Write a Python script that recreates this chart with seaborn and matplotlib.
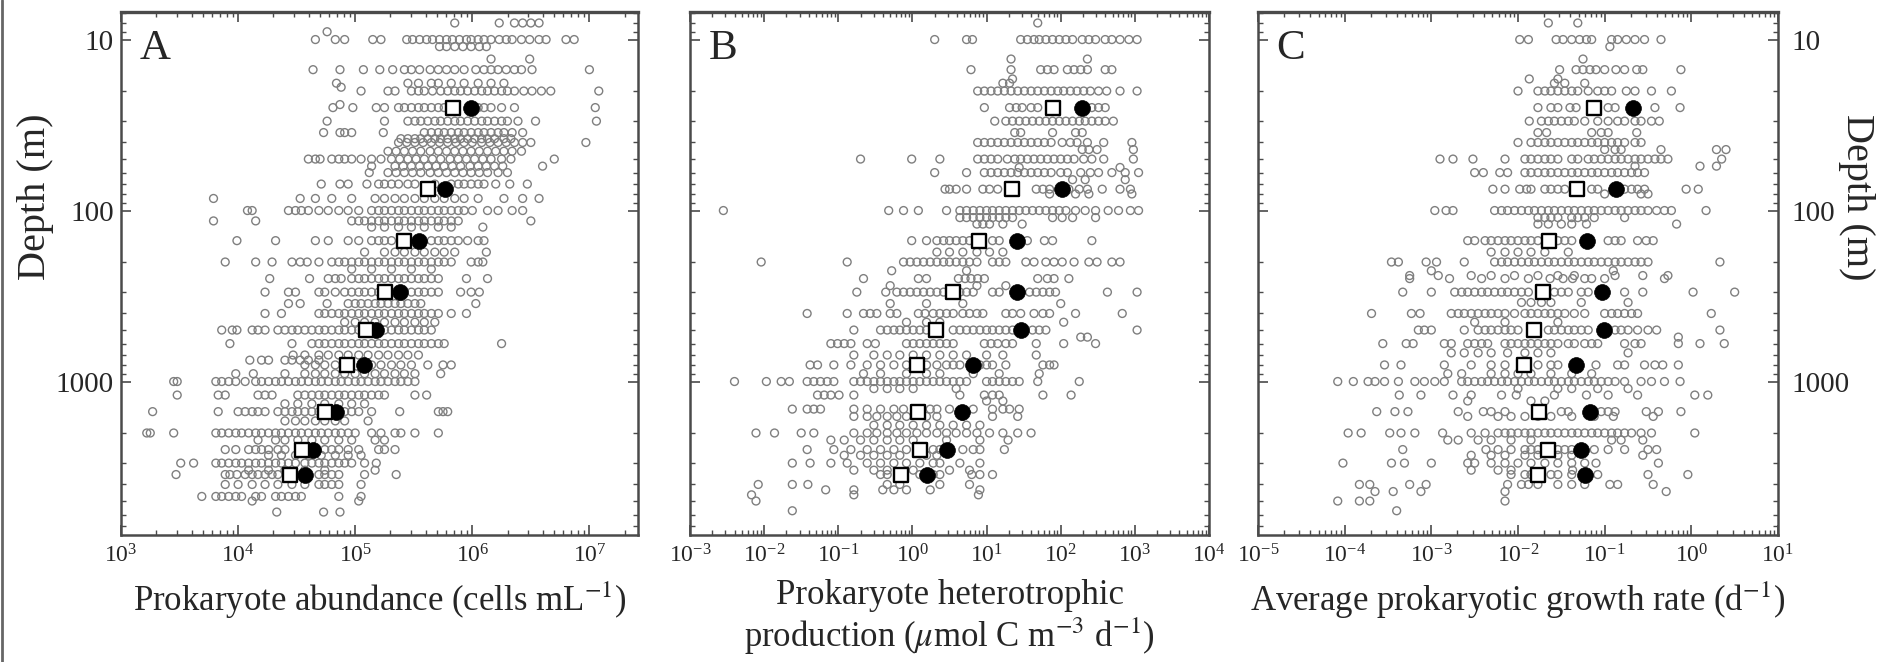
import numpy as np
import pandas as pd
import matplotlib
matplotlib.use("Agg")
import matplotlib.pyplot as plt
import seaborn as sns
from matplotlib.ticker import LogLocator, LogFormatterMathtext, NullFormatter
from matplotlib.lines import Line2D

# ---------------- data (grey points: depth in m, log10 of the x value) ----------------
abundance_rows = [
    (8, [5.85, 6.23, 6.36, 6.43, 6.50, 6.57]),
    (9, [4.76]),
    (10, [4.66, 4.83, 4.91, 5.15, 5.22, 5.44, 5.49, 5.55, 5.61, 5.66, 5.72, 5.78, 5.83, 5.89, 5.95, 5.99, 6.05, 6.10,
          6.16, 6.23, 6.29, 6.34, 6.42, 6.49, 6.57, 6.63, 6.80, 6.87]),
    (11, [5.72, 5.78, 5.85, 5.92, 5.99, 6.06, 6.12]),
    (13, [6.16, 6.49]),
    (15, [4.64, 4.87, 5.07, 5.21, 5.32, 5.42, 5.48, 5.55, 5.64, 5.71, 5.78, 5.85, 5.93, 6.03, 6.10, 6.16, 6.22, 6.29,
          6.36, 6.42, 6.51, 7.00]),
    (18, [4.84, 5.45, 5.54, 5.65, 5.71, 5.82, 5.93, 6.05, 6.16, 6.27]),
    (19, [4.88]),
    (20, [5.05, 5.28, 5.34, 5.48, 5.54, 5.59, 5.66, 5.73, 5.79, 5.85, 5.90, 5.96, 6.02, 6.08, 6.13, 6.19, 6.25, 6.30,
          6.36, 6.44, 6.51, 6.59, 6.67, 7.08]),
    (24, [4.87]),
    (25, [4.81, 4.98, 5.18, 5.25, 5.37, 5.42, 5.48, 5.54, 5.59, 5.65, 5.71, 5.76, 6.05, 6.10, 6.16, 6.25, 6.36, 7.05]),
    (30, [4.76, 5.25, 5.45, 5.51, 5.56, 5.62, 5.68, 5.73, 5.79, 5.85, 5.90, 5.96, 6.02, 6.08, 6.13, 6.19, 6.25, 6.30,
          6.39, 6.54, 7.06]),
    (35, [4.73, 4.87, 4.91, 4.97, 5.24, 5.59, 5.65, 5.71, 5.76, 5.82, 5.88, 5.93, 5.99, 6.05, 6.10, 6.16, 6.22, 6.27,
          6.34, 6.43]),
    (38, [5.39, 5.45, 5.51, 5.56, 5.62, 5.68, 5.73, 5.79, 5.85, 5.90, 5.96, 6.02, 6.08, 6.13, 6.19, 6.27, 6.33]),
    (40, [5.37, 5.44, 5.51, 5.58, 5.65, 5.72, 5.79, 5.86, 5.93, 6.00, 6.08, 6.15, 6.22, 6.29, 6.36, 6.43, 6.50, 6.97]),
    (45, [5.28, 5.35, 5.42, 5.49, 5.56, 5.64, 5.71, 5.78, 5.85, 5.92, 5.99, 6.06, 6.13, 6.20, 6.27, 6.34, 6.42]),
    (50, [4.60, 4.66, 4.70, 4.80, 4.86, 4.91, 4.97, 5.05, 5.14, 5.22, 5.31, 5.38, 5.45, 5.52, 5.59, 5.66, 5.73, 5.81,
          5.88, 5.95, 6.02, 6.09, 6.16, 6.25, 6.33, 6.70]),
    (55, [5.14, 5.34, 5.41, 5.48, 5.55, 5.62, 5.69, 5.76, 5.83, 5.90, 5.98, 6.05, 6.12, 6.19, 6.26, 6.60]),
    (60, [5.12, 5.28, 5.35, 5.42, 5.49, 5.56, 5.64, 5.71, 5.78, 5.85, 5.92, 5.99, 6.06, 6.13, 6.22, 6.30]),
    (70, [4.71, 4.87, 4.94, 5.10, 5.20, 5.25, 5.31, 5.37, 5.45, 5.51, 5.68, 5.82, 5.88, 5.93, 5.99, 6.05, 6.10, 6.20,
          6.32, 6.47]),
    (85, [3.79, 4.53, 4.66, 4.80, 4.97, 5.17, 5.25, 5.34, 5.42, 5.51, 5.59, 5.68, 5.76, 5.85, 5.93, 6.05, 6.27, 6.43,
          6.57]),
    (100, [4.08, 4.12, 4.43, 4.49, 4.54, 4.60, 4.69, 4.77, 4.86, 4.94, 5.03, 5.14, 5.20, 5.25, 5.31, 5.37, 5.42, 5.48,
           5.54, 5.59, 5.65, 5.71, 5.76, 5.82, 5.88, 5.93, 6.00, 6.13, 6.22, 6.34, 6.43]),
    (115, [3.79, 4.15, 4.97, 5.03, 5.08, 5.14, 5.20, 5.25, 5.31, 5.37, 5.42, 5.48, 5.54, 5.59, 5.65, 5.71, 5.76, 5.82,
           5.88, 6.50]),
    (125, [5.14, 5.25, 5.37, 5.48, 5.59, 5.71, 5.82, 6.09]),
    (150, [3.99, 4.32, 4.66, 4.77, 4.94, 5.03, 5.14, 5.20, 5.25, 5.31, 5.65, 5.71, 5.76, 5.82, 5.88, 5.96, 6.05, 6.10]),
    (175, [5.08, 5.25, 5.34, 5.42, 5.51, 5.59, 5.68, 5.76, 5.85, 6.12]),
    (200, [3.89, 4.15, 4.29, 4.46, 4.53, 4.59, 4.69, 4.80, 4.86, 4.91, 4.97, 5.03, 5.08, 5.14, 5.20, 5.25, 5.31, 5.37,
           5.42, 5.48, 5.54, 5.59, 5.65, 5.71, 5.76, 5.82, 5.99, 6.05, 6.09]),
    (220, [4.97, 5.14, 5.31, 5.48, 5.65]),
    (250, [4.27, 4.61, 4.77, 4.83, 4.88, 4.97, 5.03, 5.08, 5.14, 5.20, 5.25, 5.31, 5.37, 5.42, 5.48, 5.54, 5.59, 5.65,
           5.71, 5.95, 6.13]),
    (300, [4.23, 4.43, 4.49, 4.69, 4.74, 4.83, 4.91, 4.97, 5.03, 5.08, 5.14, 5.20, 5.48, 5.54, 5.59, 5.65, 5.71, 5.90,
           5.99, 6.06]),
    (350, [4.43, 4.53, 4.76, 4.94, 5.00, 5.05, 5.11, 5.17, 5.22, 5.28, 5.34, 5.39, 5.45, 5.51, 5.56, 6.03]),
    (400, [4.23, 4.37, 4.69, 4.74, 4.80, 4.86, 4.91, 4.97, 5.03, 5.08, 5.14, 5.20, 5.25, 5.31, 5.37, 5.42, 5.48, 5.54,
           5.59, 5.65, 5.71, 5.82, 5.95]),
    (450, [4.91, 5.00, 5.08, 5.17, 5.25, 5.34, 5.42, 5.51, 5.59, 5.68]),
    (500, [3.86, 3.95, 3.99, 4.12, 4.17, 4.23, 4.34, 4.40, 4.46, 4.51, 4.57, 4.63, 4.69, 4.74, 4.80, 4.86, 4.91, 4.97,
           5.03, 5.25, 5.31, 5.37, 5.42, 5.48, 5.54, 5.59, 5.65]),
    (600, [3.93, 4.46, 4.63, 4.69, 4.74, 4.80, 4.86, 4.91, 4.97, 5.03, 5.08, 5.14, 5.20, 5.25, 5.31, 5.37, 5.42, 5.48,
           5.54, 5.59, 5.65, 5.71, 5.76, 6.25]),
    (700, [4.47, 4.57, 4.69, 4.77, 4.86, 4.94, 5.03, 5.11, 5.20, 5.28, 5.37, 5.45, 5.54]),
    (750, [4.10, 4.20, 4.26, 4.40, 4.46, 4.53, 4.60, 4.69]),
    (800, [4.57, 4.66, 4.74, 4.83, 5.14, 5.22, 5.31, 5.39, 5.48, 5.62, 5.75, 5.82]),
    (900, [3.98, 4.13, 4.40, 4.57, 4.66, 4.74, 4.83, 4.91, 5.00, 5.08, 5.17, 5.25, 5.34, 5.42, 5.51, 5.73]),
    (1000, [3.45, 3.48, 3.81, 3.86, 3.92, 3.98, 4.06, 4.15, 4.20, 4.26, 4.32, 4.37, 4.43, 4.49, 4.54, 4.60, 4.66, 4.71,
            4.77, 4.83, 4.88, 4.94, 5.00, 5.05, 5.11, 5.17, 5.22, 5.28, 5.34, 5.39, 5.45, 5.51]),
    (1200, [3.48, 3.83, 3.89, 4.17, 4.23, 4.29, 4.51, 4.57, 4.63, 4.69, 4.74, 4.80, 4.86, 4.91, 4.97, 5.03, 5.08, 5.14,
            5.20, 5.25, 5.51, 5.61]),
    (1350, [4.40, 4.51, 4.63, 4.74, 4.86, 4.97, 5.08]),
    (1500, [3.27, 3.83, 4.00, 4.06, 4.12, 4.17, 4.23, 4.34, 4.40, 4.46, 4.51, 4.57, 4.63, 4.69, 4.91, 4.97, 5.03, 5.14,
            5.38, 5.71, 5.75, 5.79]),
    (1700, [4.40, 4.49, 4.57, 4.66, 4.74, 4.83, 4.91, 5.11]),
    (2000, [3.22, 3.25, 3.45, 3.81, 3.86, 3.92, 3.98, 4.03, 4.09, 4.15, 4.20, 4.26, 4.32, 4.37, 4.43, 4.49, 4.54, 4.60,
            4.66, 4.71, 4.77, 4.83, 4.88, 4.94, 5.00, 5.14, 5.22, 5.34, 5.39, 5.51, 5.71]),
    (2200, [4.17, 4.32, 4.40, 4.51, 4.63, 4.74, 4.86, 4.97, 5.17, 5.25]),
    (2500, [3.89, 3.98, 4.09, 4.15, 4.20, 4.26, 4.34, 4.40, 4.74, 4.80, 4.86, 4.94, 5.03, 5.20, 5.25, 5.34]),
    (2700, [4.26, 4.37, 4.49, 4.60, 4.71, 4.83, 4.94, 5.05]),
    (3000, [3.51, 3.62, 3.81, 3.86, 3.92, 3.98, 4.03, 4.09, 4.15, 4.20, 4.26, 4.32, 4.37, 4.43, 4.49, 4.57, 4.63, 4.69,
            4.74, 4.80, 4.86, 4.91, 4.97, 5.08, 5.18]),
    (3300, [4.09, 4.26, 4.40, 4.57, 4.74, 5.17]),
    (3500, [3.47, 3.89, 3.93, 3.99, 4.06, 4.12, 4.17, 4.23, 4.29, 4.34, 4.69, 4.74, 4.80, 4.86, 5.08, 5.35]),
    (4000, [3.89, 4.00, 4.12, 4.23, 4.34, 4.46, 4.57, 4.69, 4.74, 4.80, 4.86, 5.05]),
    (4700, [3.69, 3.81, 3.86, 3.92, 3.98, 4.03, 4.15, 4.20, 4.32, 4.37, 4.43, 4.49, 4.54, 4.86, 5.05]),
    (5000, [4.12, 5.03]),
    (5800, [4.33, 4.73, 4.87]),
]

production_rows = [
    (8, [1.69]),
    (10, [0.30, 0.73, 0.81, 1.46, 1.55, 1.64, 1.71, 1.80, 1.89, 1.98, 2.07, 2.16, 2.29, 2.38, 2.47, 2.60, 2.69, 2.80,
          2.92, 3.03]),
    (13, [1.33, 2.36]),
    (15, [0.79, 1.33, 1.73, 1.82, 1.91, 2.09, 2.18, 2.27, 2.36, 2.60, 2.69]),
    (17, [1.35]),
    (18, [1.22, 1.31]),
    (20, [0.88, 0.97, 1.06, 1.15, 1.24, 1.33, 1.42, 1.51, 1.60, 1.69, 1.78, 1.87, 1.96, 2.04, 2.13, 2.22, 2.31, 2.40,
          2.51, 2.62, 2.80, 3.03]),
    (25, [0.97, 1.31, 1.40, 1.48, 1.60, 1.69, 2.42, 2.51, 2.60]),
    (30, [1.11, 1.26, 1.35, 1.44, 1.53, 1.62, 1.71, 1.80, 1.89, 1.98, 2.07, 2.16, 2.25, 2.33, 2.42, 2.51, 2.60, 2.71]),
    (35, [1.38, 1.46, 1.89, 2.20, 2.29]),
    (40, [0.88, 0.97, 1.06, 1.15, 1.24, 1.33, 1.42, 1.51, 1.60, 1.69, 1.78, 1.87, 2.02, 2.13, 2.22, 2.36, 2.58, 2.96]),
    (44, [2.29, 2.38, 2.49, 2.98]),
    (50, [-0.70, -0.01, 0.37, 0.88, 0.97, 1.06, 1.15, 1.28, 1.38, 1.46, 1.55, 1.64, 1.73, 1.82, 1.91, 2.00, 2.09, 2.18,
          2.31, 2.42, 2.58, 2.98]),
    (56, [1.44, 2.80]),
    (60, [0.30, 0.73, 0.97, 1.06, 1.15, 1.24, 1.33, 1.42, 1.51, 1.60, 1.69, 1.78, 1.87, 2.00, 2.09, 2.27, 2.40, 2.51,
          2.69, 2.87, 3.05]),
    (66, [2.16, 2.33, 2.87]),
    (75, [0.44, 0.50, 0.59, 0.73, 0.95, 1.04, 1.15, 1.67, 1.76, 1.85, 2.11, 2.25, 2.36, 2.56, 2.80, 2.94]),
    (80, [1.85, 2.20, 2.38, 2.96]),
    (100, [-2.55, -0.32, -0.12, 0.08, 0.46, 0.64, 0.73, 0.82, 0.91, 1.00, 1.08, 1.17, 1.26, 1.35, 1.44, 1.53, 1.62,
           1.71, 1.80, 1.89, 1.98, 2.07, 2.20, 2.33, 2.47, 2.64, 2.78, 2.94, 3.05]),
    (110, [0.64, 0.73, 0.82, 0.91, 1.00, 1.08, 1.17, 1.26, 1.35, 1.89, 2.02, 2.16, 2.47]),
    (120, [0.87, 0.95, 1.04, 1.22, 1.48]),
    (150, [-0.01, 0.19, 0.33, 0.42, 0.50, 0.59, 0.68, 0.77, 1.08, 1.17, 1.55, 1.78, 1.89, 2.42]),
    (175, [0.33, 0.50, 0.68, 0.87, 1.04, 1.22]),
    (200, [-2.04, -0.88, -0.12, -0.03, 0.06, 0.15, 0.24, 0.33, 0.42, 0.50, 0.59, 0.68, 0.77, 0.87, 1.08, 1.17, 1.26,
           1.53, 1.64, 1.80, 1.91, 2.02, 2.18, 2.38, 2.49, 2.69, 2.80]),
    (225, [-0.28, 0.73]),
    (250, [-0.66, 0.08, 0.19, 0.62, 0.71, 0.79, 0.88, 0.97, 1.69, 1.82, 1.91, 2.11]),
    (275, [-0.30, 0.87, 1.26]),
    (300, [-0.75, -0.36, -0.21, -0.12, -0.03, 0.06, 0.15, 0.24, 0.33, 0.42, 0.64, 0.73, 0.82, 1.08, 1.17, 1.58, 1.67,
           1.76, 1.85, 1.93, 2.63, 3.03]),
    (350, [-0.30, 0.19, 0.68, 2.00]),
    (400, [-1.42, -0.88, -0.66, -0.57, -0.48, -0.30, -0.21, 0.08, 0.17, 0.28, 0.37, 0.46, 0.55, 0.68, 0.77, 0.87, 0.95,
           1.26, 1.35, 1.46, 1.64, 1.76, 1.85, 2.20, 2.83]),
    (450, [-0.08, 0.19, 0.37, 2.04]),
    (500, [-0.79, -0.43, -0.34, -0.25, -0.17, -0.08, 0.01, 0.10, 0.19, 0.55, 0.64, 0.73, 0.82, 0.91, 1.00, 1.08, 1.17,
           1.26, 1.35, 1.62, 1.71, 1.80, 3.03]),
    (550, [2.27, 2.36]),
    (600, [-1.10, -1.01, -0.92, -0.83, -0.61, -0.50, -0.08, 0.01, 0.10, 0.19, 0.28, 0.37, 0.46, 0.55, 0.97, 1.06, 1.15,
           1.26, 1.35, 1.67, 2.04, 2.47]),
    (700, [-0.79, -0.52, -0.34, -0.17, 0.01, 0.19, 0.37, 0.55, 0.73, 1.00, 1.22, 1.67]),
    (800, [-1.38, -1.28, -1.06, -0.83, -0.61, -0.43, -0.25, -0.08, 0.19, 0.33, 0.46, 0.55, 0.64, 0.91, 1.00, 1.08,
           1.26, 1.76, 1.85, 1.91]),
    (900, [-0.66, -0.43, -0.08, 0.19, 0.37, 0.82, 1.17, 1.71]),
    (1000, [-2.40, -1.97, -1.77, -1.66, -1.42, -1.33, -1.24, -1.15, -1.06, -0.79, -0.70, -0.61, -0.52, -0.43, -0.34,
            -0.25, -0.17, -0.08, 0.01, 0.10, 0.19, 0.28, 0.37, 0.46, 0.55, 0.64, 0.73, 1.00, 1.08, 1.17, 1.26, 1.35,
            1.44, 1.69, 2.25]),
    (1100, [-0.52, -0.34, -0.17, 0.01, 0.59]),
    (1200, [-1.28, -1.19, -1.10, -0.99, -0.79, 0.64, 0.97, 1.08, 1.17, 1.76, 2.14]),
    (1300, [1.00, 1.22]),
    (1450, [-1.62, -1.42, -1.33, -1.24, -0.79, -0.61, -0.43, -0.25, -0.12, 0.24, 0.33, 0.50, 0.82, 1.08, 1.22, 1.31,
            1.44]),
    (1600, [-0.79, -0.61, -0.48, -0.34, -0.21, -0.08, 0.19, 0.33, 0.68, 1.08, 1.42]),
    (1800, [-0.52, -0.34, -0.17, 0.01, 0.19, 0.37, 0.55, 0.73, 0.91]),
    (2000, [-2.11, -1.86, -1.50, -1.33, -0.79, -0.61, -0.48, -0.34, -0.21, -0.08, 0.06, 0.19, 0.33, 0.46, 0.59, 0.73,
            0.87, 1.04, 1.22, 1.42, 1.60]),
    (2200, [-1.10, -0.92, -0.70, -0.52, -0.34, -0.17, 0.01, 0.46, 0.91, 1.29]),
    (2500, [-1.42, -1.06, -0.83, -0.61, -0.43, -0.25, -0.08, 0.28, 0.37, 0.68, 0.82, 0.91, 1.24]),
    (2700, [-0.92, -0.70, -0.52, -0.34, -0.17, 0.19, 0.33]),
    (3000, [-1.62, -1.38, -1.10, -0.88, -0.61, -0.43, -0.25, -0.08, 0.10, 0.28, 0.37, 0.64, 0.91]),
    (3300, [-0.79, -0.52, -0.34, 0.01, 0.50, 0.77]),
    (3500, [-0.43, -0.34, 0.10, 0.28, 0.37, 0.80, 0.91, 1.08]),
    (4000, [-2.08, -1.62, -1.41, -0.34, -0.17, 0.37, 0.77]),
    (4300, [-1.17, -0.79, -0.40, -0.25, -0.08, 0.24, 0.91]),
    (4600, [-2.17, -0.79, 0.89]),
    (5000, [-2.11]),
    (5700, [-1.62]),
]

growth_rows = [
    (8, [-1.65, -1.31]),
    (10, [-1.98, -1.88, -1.56, -1.48, -1.38, -1.29, -1.21, -1.15, -0.92, -0.85, -0.75, -0.65, -0.54, -0.35]),
    (11, [-0.94]),
    (13, [-1.25]),
    (15, [-1.52, -1.33, -1.25, -1.17, -1.10, -1.00, -0.87, -0.77, -0.63, -0.56, -0.12]),
    (17, [-1.87, -1.54]),
    (18, [-1.58, -1.46, -1.23]),
    (20, [-2.00, -1.77, -1.69, -1.62, -1.54, -1.46, -1.38, -1.31, -1.19, -1.08, -1.00, -0.92, -0.75, -0.65, -0.46,
          -0.23]),
    (25, [-1.77, -1.62, -1.54, -1.40, -1.33, -0.96, -0.88, -0.42, -0.13]),
    (30, [-1.87, -1.73, -1.65, -1.58, -1.50, -1.42, -1.35, -1.23, -1.08, -0.96, -0.85, -0.77, -0.65, -0.58, -0.46,
          -0.37]),
    (35, [-1.77, -1.67, -1.15, -1.04, -0.96, -0.63]),
    (40, [-2.00, -1.85, -1.77, -1.69, -1.62, -1.54, -1.46, -1.38, -1.31, -1.23, -1.15, -1.08, -1.00, -0.92, -0.85,
          -0.77, -0.65, -0.58]),
    (44, [-1.00, -0.88, -0.81, -0.35, 0.29, 0.40]),
    (50, [-2.90, -2.75, -2.52, -2.15, -1.92, -1.85, -1.77, -1.69, -1.62, -1.54, -1.38, -1.31, -1.19, -1.12, -1.04,
          -0.96, -0.88, -0.81, -0.73, -0.65, -0.58, -0.50, -0.42, -0.35, -0.27, 0.35]),
    (55, [-0.65, 0.10, 0.29]),
    (60, [-2.50, -2.40, -2.21, -2.12, -1.92, -1.85, -1.77, -1.69, -1.62, -1.54, -1.46, -1.38, -1.31, -1.23, -1.15,
          -1.08, -1.00, -0.92, -0.85, -0.77, -0.69, -0.62, -0.54]),
    (75, [-2.29, -2.15, -1.98, -1.90, -1.85, -1.69, -1.62, -1.54, -1.46, -1.15, -1.08, -0.77, -0.69, -0.62, -0.54,
          -0.06, 0.08]),
    (80, [-1.00, -0.58, -0.50]),
    (100, [-2.96, -2.83, -2.75, -2.27, -2.19, -2.12, -2.04, -1.96, -1.88, -1.81, -1.73, -1.65, -1.58, -1.50, -1.42,
           -1.35, -1.27, -1.19, -1.12, -1.04, -0.96, -0.88, -0.81, -0.73, -0.65, -0.58, -0.50, -0.40, -0.31, -0.23,
           0.17]),
    (110, [-1.77, -1.69, -1.62, -1.54, -1.38, -1.31, -1.23, -1.12, -0.77]),
    (120, [-1.77, -1.65, -1.50, -1.38, -1.21, -0.17]),
    (150, [-2.58, -2.50, -2.38, -2.31, -2.23, -2.15, -2.08, -2.00, -1.92, -1.85, -1.77, -1.54, -1.46, -1.38, -0.96,
           -0.88, -0.81, -0.62, -0.52, -0.44]),
    (175, [-2.31, -2.15, -2.00, -1.85, -1.69, -1.42]),
    (200, [-3.46, -3.38, -3.06, -2.94, -2.62, -2.27, -2.19, -2.12, -2.04, -1.96, -1.88, -1.81, -1.73, -1.65, -1.58,
           -1.50, -1.42, -1.35, -1.27, -1.19, -1.12, -1.04, -0.96, -0.88, -0.81, -0.73, -0.65, -0.58, -0.50, 0.33]),
    (225, [-3.00, -0.90]),
    (240, [-3.25, -2.92, -2.54, -2.31, -2.04, -1.77, -1.54, -1.35, -0.88, -0.56, -0.27]),
    (250, [-3.25, -2.79, -2.42, -2.15, -1.88, -1.63, -1.48, -1.37, -1.23, -1.15, -1.00, -0.31]),
    (300, [-3.33, -3.00, -2.73, -2.65, -2.58, -2.50, -2.42, -2.35, -2.27, -2.19, -2.12, -2.04, -1.96, -1.88, -1.58,
           -1.50, -1.42, -1.27, -1.19, -0.77, -0.56, 0.02, 0.50]),
    (345, [-1.96, -1.85, -1.73, -1.62, -1.27, -0.73]),
    (400, [-3.69, -3.23, -3.13, -2.77, -2.69, -2.62, -2.54, -2.46, -2.38, -2.31, -2.23, -2.15, -2.04, -1.92, -1.85,
           -1.77, -1.69, -1.62, -1.54, -1.46, -1.35, -1.23, -1.00, -0.92, -0.85, -0.77, -0.69, -0.62, 0.23]),
    (450, [-2.50, -2.15, -1.54]),
    (500, [-3.15, -3.08, -3.00, -2.62, -2.46, -2.38, -2.31, -2.23, -2.15, -2.08, -2.00, -1.65, -1.58, -1.50, -1.42,
           -1.35, -1.27, -1.19, -0.88, -0.81, -0.73, -0.62, -0.50, -0.40, 0.33]),
    (550, [-0.15]),
    (600, [-3.56, -3.29, -3.21, -2.85, -2.77, -2.58, -2.50, -2.42, -2.35, -2.15, -2.08, -2.00, -1.92, -1.85, -1.77,
           -1.69, -1.62, -1.54, -1.42, -1.35, -1.23, -1.15, -1.08, -0.77, -0.65, -0.58, -0.15, 0.10, 0.38]),
    (680, [-2.77, -2.62, -2.46, -2.31, -2.12, -1.92, -1.77, -1.62, -0.73]),
    (800, [-3.54, -3.35, -2.85, -2.54, -2.31, -2.15, -1.77, -1.62, -1.54, -1.10, -0.85, -0.77, -0.54, -0.42, -0.33,
           -0.15]),
    (900, [-2.81, -2.65, -2.31, -2.15, -2.00, -1.85, -1.62, -1.38, -1.15]),
    (1000, [-4.08, -3.90, -3.73, -3.65, -3.54, -3.38, -3.19, -3.08, -2.96, -2.85, -2.65, -2.58, -2.50, -2.42, -2.35,
            -2.27, -2.19, -2.12, -2.04, -1.96, -1.88, -1.81, -1.73, -1.65, -1.58, -1.50, -1.42, -1.35, -1.27, -1.19,
            -1.12, -1.04, -0.96, -0.88, -0.77, -0.58, -0.46, -0.31, -0.13]),
    (1100, [-2.00, -1.54, -1.38, -1.08, -0.73]),
    (1200, [-3.37, -3.12, -2.75, -2.54, -2.19, -2.02, -1.58, -1.21, -0.96, -0.62, 0.04, 0.19]),
    (1300, [-2.58, -1.85, -1.69]),
    (1500, [-3.63, -3.42, -3.27, -2.69, -2.40, -2.31, -2.15, -1.50, -1.42, -1.04, -0.96, -0.88, -0.52, -0.38, -0.12]),
    (1600, [-2.58, -2.23, -2.08, -1.92, -1.77, -1.62, -1.38, -1.12, -0.90, -0.44]),
    (2000, [-3.96, -3.81, -3.48, -3.35, -3.19, -2.87, -2.54, -2.38, -2.23, -2.15, -2.08, -2.00, -1.92, -1.85, -1.77,
            -1.69, -1.62, -1.54, -1.46, -1.38, -1.31, -1.23, -1.15, -1.08, -1.00, -0.92, -0.85, -0.77, -0.69, -0.58,
            -0.46, 0.04]),
    (2200, [-2.81, -2.69, -2.46, -2.31, -2.08, -1.85, -0.92, -0.81, -0.56]),
    (2500, [-3.33, -2.37, -2.23, -2.08, -1.92, -1.85, -1.77, -1.54, -1.46, -1.38, -1.12, -0.96, -0.77, -0.50, -0.40]),
    (2700, [-2.54, -2.31, -2.15, -1.92, -1.77, -1.54, -1.38, -0.56]),
    (3000, [-4.02, -3.46, -3.31, -3.00, -2.58, -2.50, -2.31, -2.15, -2.00, -1.85, -1.69, -1.54, -1.38, -1.23, -1.10,
            -0.38]),
    (3300, [-2.54, -2.23, -2.08, -1.37]),
    (3500, [-2.08, -1.92, -1.85, -1.62, -1.54, -1.38, -1.08, -0.50, -0.04]),
    (4000, [-3.83, -3.71, -3.25, -3.06, -2.12, -1.96, -1.88, -1.77, -1.54, -1.38, -1.23, -0.94, -0.85, -0.44]),
    (4400, [-3.65, -3.44, -3.12, -2.15, -0.29]),
    (5000, [-4.08, -3.83, -3.71, -2.15]),
    (5700, [-3.40]),
]

# binned means (depth in m)
mean_depth = [25, 75, 150, 300, 500, 800, 1500, 2500, 3500]
abund_circle = [9.8e5, 5.8e5, 3.5e5, 2.4e5, 1.5e5, 1.2e5, 6.9e4, 4.4e4, 3.7e4]
abund_square = [6.8e5, 4.2e5, 2.6e5, 1.8e5, 1.23e5, 8.5e4, 5.5e4, 3.5e4, 2.8e4]
prod_circle = [195, 105, 26, 26, 29, 6.6, 4.6, 2.95, 1.58]
prod_square = [78, 22, 7.9, 3.5, 2.1, 1.17, 1.2, 1.26, 0.71]
growth_circle = [0.21, 0.135, 0.063, 0.093, 0.098, 0.047, 0.068, 0.054, 0.059]
growth_square = [0.076, 0.048, 0.023, 0.0195, 0.0151, 0.0117, 0.0174, 0.0219, 0.017]

xlabels = ["Prokaryote abundance (cells mL$^{-1}$)",
           "Prokaryote heterotrophic\nproduction ($\\mu$mol C m$^{-3}$ d$^{-1}$)",
           "Average prokaryotic growth rate (d$^{-1}$)"]
panel_letters = ["A", "B", "C"]
xlims = [(1e3, 2.6e7), (1e-3, 1e4), (1e-5, 1e1)]
xtick_exp = [[3, 4, 5, 6, 7], [-3, -2, -1, 0, 1, 2, 3, 4], [-5, -4, -3, -2, -1, 0, 1]]
ytick_vals = [10, 100, 1000]
ytick_labels = ["10", "100", "1000"]


def rows_to_frame(rows):
    depth = [d for d, vals in rows for _ in vals]
    value = [10.0 ** v for d, vals in rows for v in vals]
    return pd.DataFrame({"depth": depth, "value": value})


# ---------------- style ----------------
sns.set_style("ticks")
plt.rcParams["font.family"] = ["Liberation Serif", "DejaVu Serif"]
plt.rcParams["mathtext.fontset"] = "stix"

fig = plt.figure(figsize=(18.95, 6.62), dpi=100)
bottom, height = 1 - 535 / 662, 523 / 662
lefts = [121 / 1895, 690 / 1895, 1258 / 1895]
widths = [517 / 1895, 519 / 1895, 520 / 1895]

all_rows = [abundance_rows, production_rows, growth_rows]
circles = [abund_circle, prod_circle, growth_circle]
squares = [abund_square, prod_square, growth_square]

spine_col = "#4a4a4a"
for i in range(3):
    ax = fig.add_axes([lefts[i], bottom, widths[i], height])
    df = rows_to_frame(all_rows[i])
    sns.scatterplot(data=df, x="value", y="depth", ax=ax, marker="o", s=32,
                    facecolors="none", edgecolor="#7f7f7f", linewidth=1.0,
                    legend=False, zorder=2)
    mdf = pd.DataFrame({"depth": mean_depth, "circ": circles[i], "sq": squares[i]})
    sns.scatterplot(data=mdf, x="circ", y="depth", ax=ax, marker="o", s=130,
                    color="black", edgecolor="black", linewidth=0.5, legend=False, zorder=4)
    sns.scatterplot(data=mdf, x="sq", y="depth", ax=ax, marker="s", s=105,
                    facecolor="white", edgecolor="black", linewidth=1.7, legend=False, zorder=5)

    ax.set_xscale("log")
    ax.set_yscale("log")
    ax.set_xlim(*xlims[i])
    ax.set_ylim(7900, 6.9)

    ax.set_xticks([10.0 ** e for e in xtick_exp[i]])
    ax.xaxis.set_major_formatter(LogFormatterMathtext())
    ax.xaxis.set_minor_locator(LogLocator(base=10, subs=np.arange(2, 10), numticks=40))
    ax.xaxis.set_minor_formatter(NullFormatter())
    ax.set_yticks(ytick_vals, labels=ytick_labels)
    ax.yaxis.set_minor_locator(LogLocator(base=10, subs=np.arange(2, 10), numticks=40))
    ax.yaxis.set_minor_formatter(NullFormatter())

    ax.tick_params(which="both", direction="in", top=True, right=True, bottom=True, left=True,
                   color=spine_col)
    ax.tick_params(which="major", length=7, width=1.2)
    ax.tick_params(which="minor", length=3.5, width=1.0)
    ax.tick_params(axis="x", which="major", labelsize=17, pad=7)
    ax.tick_params(axis="y", which="major", labelsize=21, pad=5)
    if i == 0:
        ax.tick_params(axis="y", labelleft=True, labelright=False)
    elif i == 1:
        ax.tick_params(axis="y", labelleft=False, labelright=False)
    else:
        ax.tick_params(axis="y", labelleft=False, labelright=True, pad=10)
        for lab in ax.get_yticklabels():
            lab.set_horizontalalignment("left")

    for s in ax.spines.values():
        s.set_color(spine_col)
        s.set_linewidth(1.8)
    ax.spines["top"].set_linewidth(2.4)

    ax.set_ylabel("")
    ax.set_xlabel(xlabels[i], fontsize=25, linespacing=1.1)
    ax.xaxis.set_label_coords(0.5, -0.085)
    ax.text(0.036, 0.967, panel_letters[i], transform=ax.transAxes, fontsize=31,
            ha="left", va="top")

fig.text(36 / 1895, 1 - 197 / 662, "Depth (m)", rotation=90, fontsize=29,
         ha="center", va="center")
fig.text(1856 / 1895, 1 - 197 / 662, "Depth (m)", rotation=270, fontsize=29,
         ha="center", va="center")
fig.add_artist(Line2D([0.0012, 0.0012], [0, 1], transform=fig.transFigure,
                      color="#666666", linewidth=2))

fig.savefig("out.png", dpi=100)
